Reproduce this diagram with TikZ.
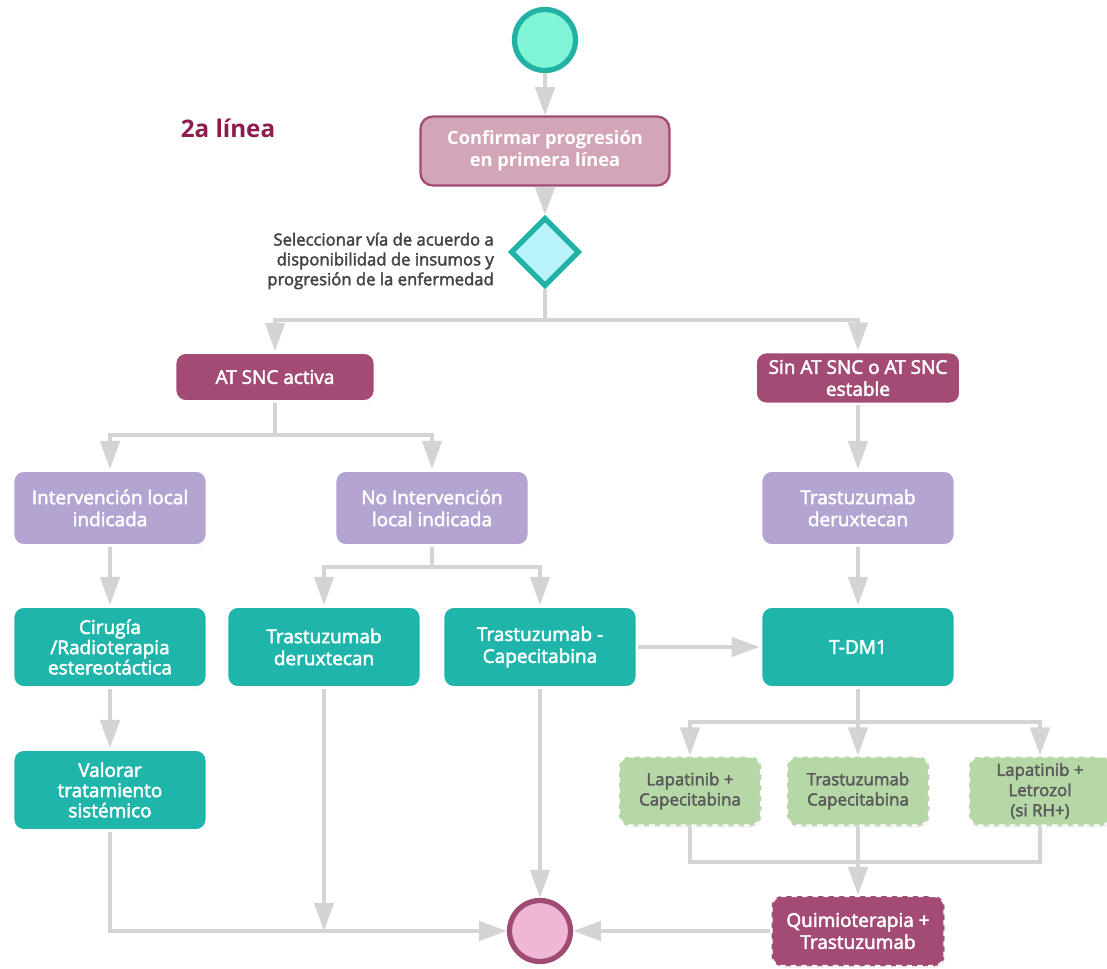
\documentclass[tikz,border=0pt]{standalone}
\usepackage{fontspec}
\setmainfont{Open Sans}
\newfontfamily\medfont[FakeBold=2.5]{Open Sans}
\usetikzlibrary{arrows.meta,shapes.geometric,shadows}

\definecolor{mintc}{HTML}{7FF5D6}
\definecolor{tealline}{HTML}{22B2A5}
\definecolor{tealc}{HTML}{20B5AA}
\definecolor{icec}{HTML}{B9F4FA}
\definecolor{rosec}{HTML}{D3A5B8}
\definecolor{plumline}{HTML}{A04B74}
\definecolor{plumc}{HTML}{A34B74}
\definecolor{lilacc}{HTML}{B3A4D2}
\definecolor{leafc}{HTML}{B5D8A6}
\definecolor{leaftext}{HTML}{5A5A5A}
\definecolor{linkc}{HTML}{D4D4D4}
\definecolor{labelc}{HTML}{444444}
\definecolor{winec}{HTML}{8E1B4E}
\definecolor{pinkc}{HTML}{EFB7D3}

\begin{document}
\begin{tikzpicture}[x=0.02cm,y=-0.02cm]
        \tikzstyle{box} = [rounded corners=6pt, draw=white, line width=1.6pt, text=white, align=center, inner sep=2pt, font=\medfont\fontsize{10.8}{12.5}\selectfont, drop shadow={opacity=0.25, shadow xshift=0.4pt, shadow yshift=-0.8pt}]
        \tikzstyle{plumbox} = [box, fill=plumc]
        \tikzstyle{lilacbox} = [box, fill=lilacc, minimum width=3.88cm, minimum height=1.5cm]
        \tikzstyle{tealbox} = [box, fill=tealc, minimum width=3.88cm, minimum height=1.62cm]
        \tikzstyle{optbox} = [box, dashed, line width=1.2pt, fill=leafc, text=leaftext, font=\medfont\fontsize{9.6}{11.5}\selectfont, minimum width=2.84cm, minimum height=1.38cm]
        \tikzstyle{wire} = [draw=linkc, line width=2.2pt]
        \tikzstyle{link} = [wire, -{Triangle[length=16pt,width=11pt]}]

        \useasboundingbox (0,0) rectangle (1107,969);

        \node[circle, draw=tealline, line width=3pt, fill=mintc, minimum size=1.22cm] (start) at (545,40){};
        \node[rounded corners=7pt, draw=plumline, line width=1.3pt, fill=rosec, text=white, align=center, minimum width=4.98cm, minimum height=1.38cm, font=\bfseries\fontsize{10.4}{12.5}\selectfont] (confirm) at (545,151){Confirmar progresión\\en primera línea};
        \node[diamond, aspect=1, inner sep=0pt, draw=tealline, line width=3pt, fill=icec, minimum width=1.38cm, minimum height=1.38cm] (choice) at (545,252){};
        \node[anchor=east, align=right, text=labelc, font=\medfont\fontsize{9.5}{11.3}\selectfont] (choicelbl) at (500,261){Seleccionar vía de acuerdo a\\disponibilidad de insumos y\\progresión de la enfermedad};
        \node[text=winec, font=\bfseries\fontsize{13.8}{16}\selectfont] (title) at (228,128){2a línea};

        \node[plumbox, minimum width=4.0cm, minimum height=0.98cm] (active) at (275,377){AT SNC activa};
        \node[plumbox, minimum width=4.1cm, minimum height=1.04cm] (stable) at (858,378){Sin AT SNC o AT SNC\\estable};

        \node[lilacbox] (local) at (110,508){Intervención local\\indicada};
        \node[lilacbox] (nolocal) at (432,508){No Intervención\\local indicada};
        \node[lilacbox] (deruB) at (858,508){Trastuzumab\\deruxtecan};

        \node[tealbox, font=\medfont\fontsize{10.8}{11.5}\selectfont] (surgery) at (110,647){Cirugía\\/Radioterapia\\estereotáctica};
        \node[tealbox] (deruA) at (324,647){Trastuzumab\\deruxtecan};
        \node[tealbox] (trascap) at (540,647){Trastuzumab -\\Capecitabina};
        \node[tealbox] (tdm) at (858,647){T-DM1};
        \node[tealbox, font=\medfont\fontsize{10.8}{11.5}\selectfont] (assess) at (110,790){Valorar\\tratamiento\\sistémico};

        \node[optbox] (lapcap) at (690,791){Lapatinib +\\Capecitabina};
        \node[optbox] (trcap) at (858,791){Trastuzumab\\Capecitabina};
        \node[optbox] (laplet) at (1040,791){Lapatinib +\\Letrozol\\(si RH+)};

        \node[plumbox, dashed, line width=1.2pt, minimum width=3.46cm, minimum height=1.4cm] (chemo) at (858,931){Quimioterapia +\\Trastuzumab};
        \node[circle, draw=plumline, line width=3pt, fill=pinkc, minimum size=1.22cm] (finish) at (540,931){};

        \coordinate (forkA) at (545,320);
        \coordinate (forkB) at (275,435);
        \coordinate (forkC) at (432,567);
        \coordinate (forkD) at (858,722);
        \coordinate (joinD) at (858,862);

        \draw[link] (start) -- (confirm);
        \draw[link] (confirm) -- (choice);
        \draw[wire] (choice) -- (forkA);
        \draw[link] (forkA) -| (active);
        \draw[link] (forkA) -| (stable);

        \draw[wire] (active) -- (forkB);
        \draw[link] (forkB) -| (local);
        \draw[link] (forkB) -| (nolocal);
        \draw[wire] (nolocal) -- (forkC);
        \draw[link] (forkC) -| (deruA);
        \draw[link] (forkC) -| (trascap);
        \draw[link] (local) -- (surgery);
        \draw[link] (surgery) -- (assess);

        \draw[link] (stable) -- (deruB);
        \draw[link] (deruB) -- (tdm);
        \draw[link] (trascap) -- (tdm);
        \draw[wire] (tdm) -- (forkD);
        \draw[link] (forkD) -| (lapcap);
        \draw[link] (forkD) -- (trcap);
        \draw[link] (forkD) -| (laplet);
        \draw[wire] (lapcap) |- (joinD) -| (laplet);
        \draw[wire] (trcap) -- (joinD);
        \draw[link] (joinD) -- (chemo);

        \draw[link] (assess) |- (finish);
        \draw[link] (deruA) -- (deruA |- finish);
        \draw[link] (trascap) -- (finish);
        \draw[link] (chemo) -- (finish);

    \end{tikzpicture}
\end{document}
